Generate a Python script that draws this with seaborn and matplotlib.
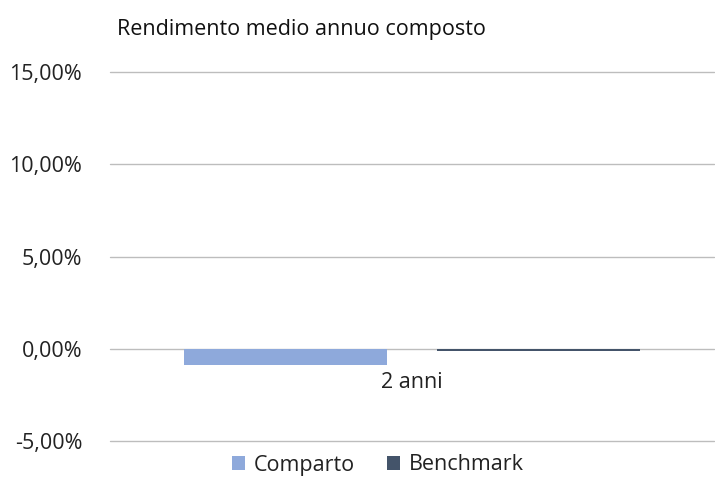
import matplotlib
matplotlib.use("Agg")
import matplotlib.pyplot as plt
import seaborn as sns
import pandas as pd
from matplotlib.ticker import FuncFormatter
from matplotlib.patches import Patch

categories = ["2 anni"]
series = ["Comparto", "Benchmark"]
values = [-0.90, -0.10]
colors = ["#8EA9DB", "#44546A"]
yticks = [-5, 0, 5, 10, 15]

df = pd.DataFrame({"cat": categories * len(series), "serie": series, "val": values})

sns.set_theme(style="white")
plt.rcParams['font.family'] = ['Open Sans', 'DejaVu Sans']

fig = plt.figure(figsize=(7.15, 4.78), dpi=100)
ax = fig.add_axes([110/715, 1-441/478, 604/715, (441-72)/478])

sns.barplot(data=df, x="cat", y="val", hue="serie", palette=colors, width=0.84, gap=0.2,
            ax=ax, legend=False, saturation=1, linewidth=0, edgecolor="none")
ax.set_xlim(-0.5, 0.5)
ax.set_ylim(-5, 15)
ax.set_yticks(yticks)
ax.yaxis.set_major_formatter(FuncFormatter(lambda v, p: f"{v:.2f}%".replace(".", ",")))
ax.grid(axis="y", color="#bdbdbd", linewidth=1)
ax.set_axisbelow(True)
for gl in ax.get_ygridlines():
    gl.set_clip_on(False)
for s in ax.spines.values():
    s.set_visible(False)
ax.set_xticks([])
ax.set_xlabel("")
ax.set_ylabel("")
ax.tick_params(axis="y", labelsize=15.5, colors="#222222", pad=20, length=0)

ax.annotate(categories[0], xy=(0, 0), xytext=(0, -24.5), textcoords="offset points",
            ha="center", va="center", fontsize=15.5, color="#222222")

fig.text(117/715, 1-30/478, "Rendimento medio annuo composto", fontsize=15.5,
         color="#111111", ha="left", va="center")

handles = [Patch(facecolor=c, edgecolor="none", label=s) for s, c in zip(series, colors)]
fig.legend(handles=handles, loc="center", bbox_to_anchor=(378/715, 1-465/478), ncol=2,
           frameon=False, fontsize=15.5, handlelength=0.6, handleheight=0.6,
           handletextpad=0.4, columnspacing=1.5, labelcolor="#222222")

fig.savefig("out.png", dpi=100)
